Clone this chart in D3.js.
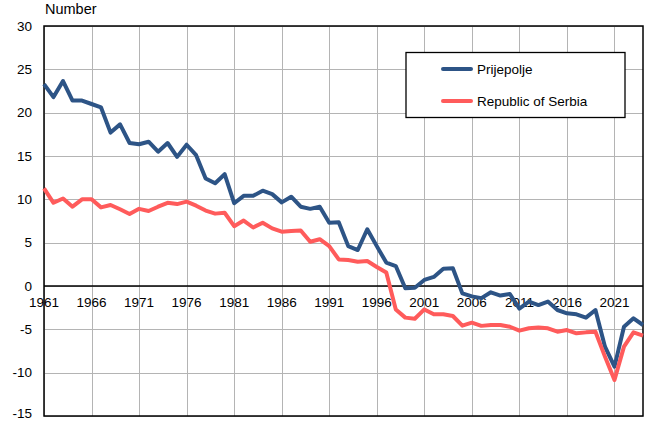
<!DOCTYPE html>
<html><head><meta charset="utf-8">
<script src="https://cdn.jsdelivr.net/npm/d3@7"></script>
<style>body{margin:0;background:#fff}svg{display:block}text{font-family:"Liberation Sans",Arial,sans-serif;fill:#000}</style>
</head><body>
<svg id="c" width="647" height="421"></svg>
<script>
const years = d3.range(1961, 2025);
const prijepolje = [23.3,21.8,23.65,21.4,21.4,21.0,20.6,17.7,18.65,16.5,
16.35,16.65,15.5,16.5,14.9,16.3,15.1,12.4,11.85,12.9,
9.55,10.4,10.4,11.0,10.6,9.65,10.3,9.15,8.9,9.15,
7.3,7.35,4.6,4.15,6.55,4.6,2.7,2.3,-0.25,-0.2,
0.7,1.05,2.0,2.05,-0.85,-1.2,-1.4,-0.73,-1.1,-0.92,
-2.6,-1.8,-2.2,-1.8,-2.77,-3.15,-3.27,-3.65,-2.77,-7.0,
-9.3,-4.7,-3.73,-4.5];
const serbia = [11.27,9.6,10.1,9.15,10.0,10.0,9.07,9.35,8.85,8.3,
8.9,8.65,9.15,9.6,9.45,9.73,9.27,8.7,8.35,8.45,
6.9,7.55,6.75,7.3,6.65,6.27,6.35,6.4,5.1,5.4,
4.6,3.07,3.0,2.8,2.88,2.2,1.55,-2.7,-3.65,-3.78,
-2.7,-3.27,-3.27,-3.46,-4.58,-4.23,-4.6,-4.5,-4.5,-4.7,
-5.15,-4.88,-4.8,-4.88,-5.27,-5.08,-5.46,-5.35,-5.27,-8.15,
-10.85,-7.0,-5.35,-5.73];
const yTicks = [30,25,20,15,10,5,0,-5,-10,-15];
const xTicks = [1961,1966,1971,1976,1981,1986,1991,1996,2001,2006,2011,2016,2021];
const seriesNames = ["Prijepolje","Republic of Serbia"];
const colors = ["#2d5486","#ff5b5b"];

const svg = d3.select("#c");
const L=44, R=643, T=26, B=416;
const x = d3.scaleLinear().domain([1961,2024]).range([L,R]);
const y = d3.scaleLinear().domain([-15,30]).range([B,T]);

// grid
svg.append("g").selectAll("line").data(yTicks).join("line")
  .attr("x1",L).attr("x2",R).attr("y1",d=>Math.round(y(d))+0.5).attr("y2",d=>Math.round(y(d))+0.5)
  .attr("stroke","#b4b4b4").attr("stroke-width",1);
svg.append("g").selectAll("line").data(xTicks).join("line")
  .attr("y1",T).attr("y2",B).attr("x1",d=>Math.round(x(d))+0.5).attr("x2",d=>Math.round(x(d))+0.5)
  .attr("stroke","#b4b4b4").attr("stroke-width",1);

// frame
svg.append("rect").attr("x",L).attr("y",T).attr("width",R-L).attr("height",B-T)
  .attr("fill","none").attr("stroke","#000").attr("stroke-width",1.5);
svg.append("line").attr("x1",L).attr("x2",R).attr("y1",y(0)).attr("y2",y(0)).attr("stroke","#000").attr("stroke-width",1.3);

// y labels
svg.append("g").selectAll("text").data(yTicks).join("text")
  .attr("x",32).attr("y",d=>Math.min(y(d),413)).attr("dy","0.35em").attr("text-anchor","end")
  .attr("font-size",13.5).text(d=>d);
svg.append("text").attr("x",45).attr("y",14).attr("font-size",14.5).text("Number");

// x labels
svg.append("g").selectAll("text").data(xTicks).join("text")
  .attr("x",d=>x(d)).attr("y",y(0)+16).attr("dy","0.35em").attr("text-anchor","middle")
  .attr("font-size",13.5).text(d=>d);

// lines
const line = d3.line().x((d,i)=>x(years[i])).y(d=>y(d));
[prijepolje, serbia].forEach((s,k)=>{
  svg.append("path").datum(s).attr("d",line).attr("fill","none")
    .attr("stroke",colors[k]).attr("stroke-width",4).attr("stroke-linejoin","round");
});

// legend
const lg = svg.append("g");
lg.append("rect").attr("x",406).attr("y",52.5).attr("width",219).attr("height",65)
  .attr("fill","#fff").attr("stroke","#000").attr("stroke-width",1.3);
seriesNames.forEach((n,k)=>{
  const yy = 69 + k*32;
  lg.append("line").attr("x1",443).attr("x2",471).attr("y1",yy).attr("y2",yy)
    .attr("stroke",colors[k]).attr("stroke-width",4).attr("stroke-linecap","round");
  lg.append("text").attr("x",477).attr("y",yy).attr("dy","0.35em").attr("font-size",13.5).text(n);
});
</script>
</body></html>
